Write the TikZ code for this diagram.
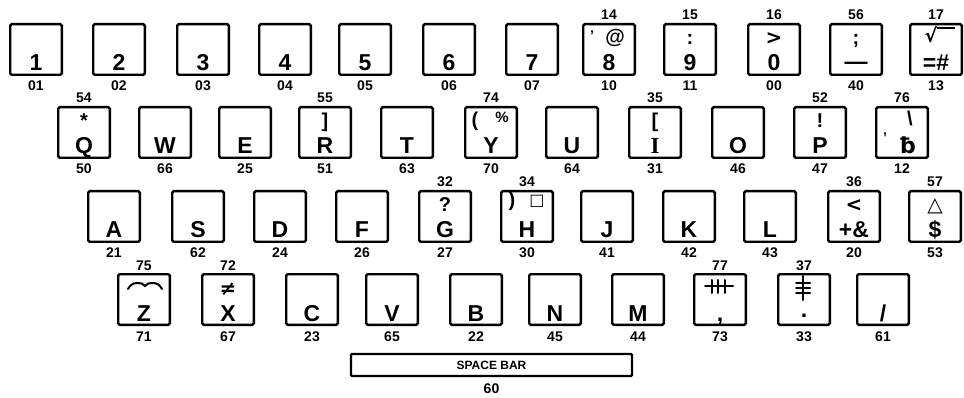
\documentclass[tikz,border=0pt]{standalone}
\usepackage{fontspec}
\setmainfont{Liberation Sans}
\newfontfamily\symf{DejaVu Sans}
\newfontfamily\seriff{Liberation Serif}
\tikzset{
  keybox/.style={draw, line width=2.4pt, rounded corners=1.5pt, minimum width=51.6pt, minimum height=50.6pt, inner sep=0pt},
  mainlbl/.style={anchor=base, inner sep=0pt, font=\fontsize{23}{23}\selectfont\bfseries},
  upperlbl/.style={anchor=base, inner sep=0pt, font=\fontsize{20}{20}\selectfont\bfseries},
  codelbl/.style={anchor=base, inner sep=0pt, font=\fontsize{14}{14}\selectfont\bfseries},
  glyph/.style={line width=2pt, line cap=round},
}
% #1 name, #2 left, #3 top, #4 upper legend, #5 main legend, #6 code above, #7 code below
\newcommand\kbkey[7]{%
  \node[keybox] (#1) at ({#2+27},{#3+26.5}) {};
  \if\relax\detokenize{#4}\relax\else\node[upperlbl] (#1u) at ({#2+27},{#3+22}) {#4};\fi
  \if\relax\detokenize{#5}\relax\else\node[mainlbl] (#1m) at ({#2+27},{#3+48}) {#5};\fi
  \if\relax\detokenize{#6}\relax\else\node[codelbl] (#1a) at ({#2+27},{#3-3}) {#6};\fi
  \node[codelbl] (#1b) at ({#2+27},{#3+68}) {#7};
}
\begin{document}
\begin{tikzpicture}[x=1pt,y=-1pt]
\useasboundingbox (0,0) rectangle (964,398);
% ---- row 1 (top 23)
\kbkey{k01}{9}{23}{}{1}{}{01}
\kbkey{k02}{92}{23}{}{2}{}{02}
\kbkey{k03}{176}{23}{}{3}{}{03}
\kbkey{k04}{258}{23}{}{4}{}{04}
\kbkey{k05}{338}{23}{}{5}{}{05}
\kbkey{k06}{422}{23}{}{6}{}{06}
\kbkey{k07}{505}{23}{}{7}{}{07}
\kbkey{k10}{582}{23}{}{8}{14}{10}
\node[upperlbl] (k10u) at (615,44) {@};
\node[codelbl] (k10q) at (592,41) {'};
\kbkey{k11}{663}{23}{:}{9}{15}{11}
\kbkey{k00}{747}{23}{\symf >}{0}{16}{00}
\kbkey{k40}{829}{23}{;}{}{56}{40}
\node[inner sep=0pt, font=\fontsize{23}{23}\selectfont\bfseries] (k40m) at (856,66) {—};
\kbkey{k13}{909}{23}{}{=\#}{17}{13}
\node[upperlbl, font=\fontsize{19}{19}\selectfont\bfseries\symf] (k13u) at (931,43) {√};
\draw[line width=1.8pt] (k13u.north east) ++(-1,1) -- ++(18,0);
% ---- row 2 (top 106)
\kbkey{k50}{57}{106}{*}{Q}{54}{50}
\kbkey{k66}{138}{106}{}{W}{}{66}
\kbkey{k25}{218}{106}{}{E}{}{25}
\kbkey{k51}{298}{106}{]}{R}{55}{51}
\kbkey{k63}{380}{106}{}{T}{}{63}
\kbkey{k70}{464}{106}{}{Y}{74}{70}
\node[upperlbl] (k70p) at (475,127) {(};
\node[anchor=base, inner sep=0pt, font=\fontsize{15}{15}\selectfont\bfseries] (k70u) at (502,123) {\%};
\kbkey{k64}{545}{106}{}{U}{}{64}
\kbkey{k31}{628}{106}{[}{\seriff I}{35}{31}
\kbkey{k46}{711}{106}{}{O}{}{46}
\kbkey{k47}{793}{106}{!}{P}{52}{47}
\kbkey{k12}{875}{106}{}{}{76}{12}
\node[upperlbl] (k12u) at (910,126) {\textbackslash};
\node[mainlbl, font=\fontsize{22}{22}\selectfont\bfseries\symf] (k12m) at (908,154) {ƀ};
\node[codelbl] (k12q) at (885,143) {'};
% ---- row 3 (top 190)
\kbkey{k21}{87}{190}{}{A}{}{21}
\kbkey{k62}{171}{190}{}{S}{}{62}
\kbkey{k24}{253}{190}{}{D}{}{24}
\kbkey{k26}{335}{190}{}{F}{}{26}
\kbkey{k27}{418}{190}{?}{G}{32}{27}
\kbkey{k30}{500}{190}{}{H}{34}{30}
\node[upperlbl] (k30p) at (512,207) {)};
\node[inner sep=0pt, font=\fontsize{16}{16}\selectfont\bfseries\symf] (k30u) at (537,201) {□};
\kbkey{k41}{580}{190}{}{J}{}{41}
\kbkey{k42}{662}{190}{}{K}{}{42}
\kbkey{k43}{743}{190}{}{L}{}{43}
\kbkey{k20}{827}{190}{\symf <}{+\&}{36}{20}
\kbkey{k53}{908}{190}{\symf △}{\$}{57}{53}
% ---- row 4 (top 273)
\kbkey{k71}{117}{273}{}{Z}{75}{71}
\draw[glyph] (128,289) to[out=60,in=180] (137,283) to[out=0,in=120] (145,286) to[out=60,in=180] (153,283) to[out=0,in=120] (162,289);
\kbkey{k67}{201}{273}{\symf ≠}{X}{72}{67}
\kbkey{k23}{285}{273}{}{C}{}{23}
\kbkey{k65}{365}{273}{}{V}{}{65}
\kbkey{k22}{449}{273}{}{B}{}{22}
\kbkey{k45}{528}{273}{}{N}{}{45}
\kbkey{k44}{611}{273}{}{M}{}{44}
\kbkey{k73}{693}{273}{}{,}{77}{73}
\draw[glyph] (705,286) -- (733,286);
\foreach \xx in {712,718,725} \draw[glyph] (\xx,280) -- (\xx,293);
\kbkey{k33}{777}{273}{}{}{37}{33}
\node[mainlbl] (k33m) at (804,317) {.};
\draw[glyph] (803,276) -- (803,300);
\foreach \yy in {283,288,293} \draw[glyph] (796,\yy) -- (810,\yy);
\kbkey{k61}{856}{273}{}{/}{}{61}
% ---- space bar
\node[draw, line width=2.4pt, rounded corners=1pt, minimum width=281pt, minimum height=22pt, inner sep=0pt] (space) at (491.5,365) {};
\node[inner sep=0pt, font=\fontsize{12}{12}\selectfont\bfseries] (spacet) at (space.center) {SPACE BAR};
\node[codelbl] (spaceb) at (491.5,393) {60};
\end{tikzpicture}
\end{document}
